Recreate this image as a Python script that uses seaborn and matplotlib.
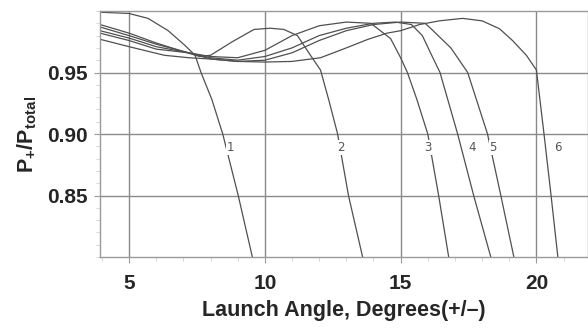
import numpy as np
import pandas as pd
import seaborn as sns
import matplotlib.pyplot as plt
from matplotlib.ticker import MultipleLocator

# --- data (launch angle in degrees, P+/Ptotal) ---
x1 = [3.93, 5.0, 5.7, 6.44, 7.06, 7.43, 7.65, 8.05, 8.45, 9.02, 9.54]
y1 = [0.999, 0.998, 0.994, 0.984, 0.972, 0.964, 0.950, 0.928, 0.900, 0.850, 0.800]

x2 = [3.93, 5.0, 6.0, 7.0, 7.6, 8.0, 8.8, 9.6, 10.2, 10.7, 11.2, 11.68, 12.05, 12.35, 12.68, 13.08, 13.6]
y2 = [0.989, 0.982, 0.974, 0.967, 0.963, 0.964, 0.975, 0.985, 0.986, 0.985, 0.980, 0.964, 0.952, 0.928, 0.900, 0.850, 0.800]

x3 = [3.93, 5.0, 6.0, 7.2, 8.0, 9.0, 10.0, 11.0, 12.0, 13.0, 13.9, 14.63, 15.0, 15.25, 15.6, 16.0, 16.4, 16.77]
y3 = [0.987, 0.980, 0.973, 0.966, 0.963, 0.962, 0.968, 0.980, 0.988, 0.991, 0.990, 0.9776, 0.962, 0.950, 0.928, 0.900, 0.850, 0.800]

x4 = [3.93, 5.0, 6.0, 7.2, 8.0, 9.0, 10.0, 11.0, 12.0, 13.0, 14.0, 14.8, 15.4, 15.8, 16.1, 16.45, 17.1, 17.69, 18.32]
y4 = [0.984, 0.978, 0.971, 0.966, 0.962, 0.960, 0.963, 0.970, 0.980, 0.986, 0.990, 0.991, 0.989, 0.980, 0.966, 0.950, 0.900, 0.850, 0.800]

x5 = [3.93, 5.0, 6.0, 7.2, 8.0, 9.0, 10.0, 11.0, 12.0, 13.0, 14.0, 15.0, 15.9, 16.1, 16.85, 17.47, 18.2, 18.69, 19.17]
y5 = [0.982, 0.976, 0.969, 0.966, 0.961, 0.959, 0.960, 0.966, 0.976, 0.984, 0.989, 0.991, 0.990, 0.986, 0.970, 0.950, 0.900, 0.850, 0.800]

x6 = [3.93, 5.0, 6.3, 7.2, 8.0, 9.0, 10.0, 11.0, 12.05, 13.0, 13.8, 14.5, 15.0, 15.7, 16.43, 17.28, 18.0, 18.64, 19.12, 19.63, 20.0, 20.28, 20.54, 20.79]
y6 = [0.977, 0.971, 0.964, 0.962, 0.961, 0.959, 0.9585, 0.959, 0.962, 0.970, 0.977, 0.982, 0.984, 0.989, 0.992, 0.994, 0.992, 0.9856, 0.976, 0.964, 0.952, 0.900, 0.850, 0.800]

curve_names = ['1', '2', '3', '4', '5', '6']
label_x = [8.73, 12.79, 16.0, 17.62, 18.4, 20.8]
label_y = 0.889

xs = [x1, x2, x3, x4, x5, x6]
ys = [y1, y2, y3, y4, y5, y6]
df = pd.concat([pd.DataFrame({'angle': x, 'ratio': y, 'curve': n})
                for x, y, n in zip(xs, ys, curve_names)], ignore_index=True)

sns.set_style('white')
plt.rcParams['font.family'] = ['Liberation Sans', 'DejaVu Sans']
plt.rcParams['mathtext.fontset'] = 'custom'
plt.rcParams['mathtext.rm'] = 'Liberation Sans'
plt.rcParams['mathtext.bf'] = 'Liberation Sans:bold'

fig = plt.figure(figsize=(5.88, 3.30), dpi=100)
ax = fig.add_axes([100 / 588, 1 - 257 / 330, 1 - 100 / 588, (257 - 11) / 330])

sns.lineplot(data=df, x='angle', y='ratio', hue='curve', units='curve', estimator=None,
             palette=['#505050'] * 6, linewidth=0.9, legend=False, sort=False, ax=ax)

for n, lx in zip(curve_names, label_x):
    ax.text(lx, label_y, n, fontsize=8.5, color='#555555', family='DejaVu Sans',
            ha='center', va='center',
            bbox=dict(facecolor='white', edgecolor='none', pad=0.5))

ax.set_xlim(3.93, 21.9)
ax.set_ylim(0.80, 1.0)
ax.xaxis.set_major_locator(MultipleLocator(5))
ax.xaxis.set_minor_locator(MultipleLocator(1))
ax.yaxis.set_major_locator(MultipleLocator(0.05))
ax.yaxis.set_minor_locator(MultipleLocator(0.01))
ax.set_yticks([0.85, 0.90, 0.95])
ax.set_yticklabels(['0.85', '0.90', '0.95'])
ax.grid(True, which='major', color='#8a8a8a', linewidth=1.0)
ax.set_axisbelow(True)

for s in ax.spines.values():
    s.set_color('#9a9a9a')
    s.set_linewidth(1.0)

ax.tick_params(which='major', length=4, color='#9a9a9a', labelsize=15)
ax.tick_params(which='minor', length=3, color='#d0d0d0')
ax.tick_params(axis='x', which='both', bottom=True, pad=8)
ax.tick_params(axis='y', which='both', left=True, pad=5)
for t in ax.get_xticklabels() + ax.get_yticklabels():
    t.set_fontweight('bold')

ax.set_xlabel('Launch Angle, Degrees(+/\u2013)', fontsize=15.5, fontweight='bold', labelpad=5)
ax.set_ylabel(r'$\mathbf{P_{+}/P_{total}}$', fontsize=15.5, labelpad=6)

fig.savefig('out.png', dpi=100)
